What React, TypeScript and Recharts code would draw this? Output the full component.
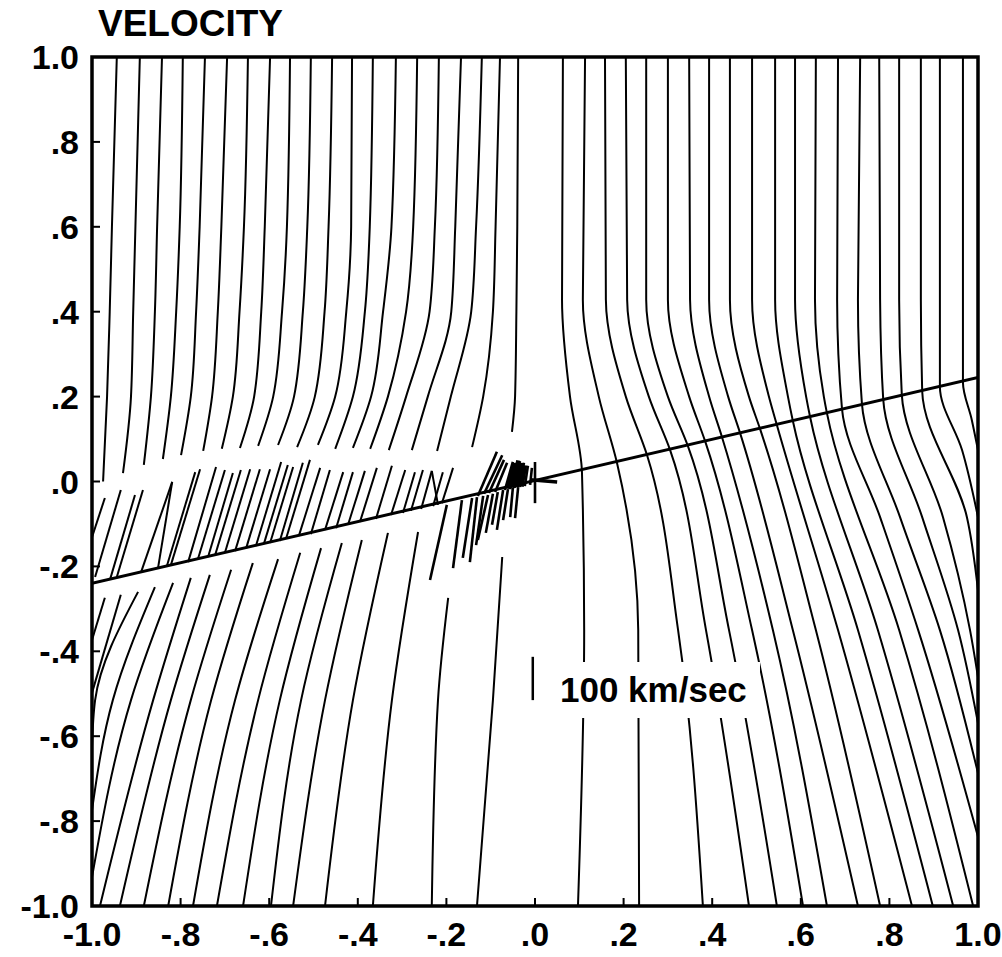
import React from 'react';
import { LineChart, Line, XAxis, YAxis, ReferenceArea } from 'recharts';

type Pt = [number, number];

const axisTicks = [-1, -0.8, -0.6, -0.4, -0.2, 0, 0.2, 0.4, 0.6, 0.8, 1];

// streamlines coming down from the top, left of centre (end above the shock line)
const upperLeftStreams: Pt[][] = [
  [[-0.944, 1], [-0.955, 0.6], [-0.96, 0.4], [-0.966, 0.2], [-0.975, 0.0]],
  [[-0.892, 1], [-0.902, 0.6], [-0.907, 0.4], [-0.912, 0.2], [-0.93, 0.02]],
  [[-0.842, 1], [-0.853, 0.6], [-0.858, 0.4], [-0.867, 0.2], [-0.883, 0.039]],
  [[-0.795, 1], [-0.802, 0.6], [-0.81, 0.4], [-0.822, 0.2], [-0.84, 0.053]],
  [[-0.745, 1], [-0.757, 0.6], [-0.765, 0.4], [-0.777, 0.2], [-0.799, 0.062]],
  [[-0.695, 1], [-0.708, 0.6], [-0.716, 0.4], [-0.729, 0.2], [-0.749, 0.072]],
  [[-0.648, 1], [-0.657, 0.6], [-0.667, 0.4], [-0.682, 0.2], [-0.707, 0.077]],
  [[-0.598, 1], [-0.61, 0.6], [-0.618, 0.4], [-0.634, 0.2], [-0.666, 0.079]],
  [[-0.553, 1], [-0.56, 0.6], [-0.571, 0.4], [-0.591, 0.2], [-0.625, 0.084]],
  [[-0.506, 1], [-0.514, 0.6], [-0.524, 0.4], [-0.544, 0.2], [-0.58, 0.086]],
  [[-0.458, 1], [-0.466, 0.6], [-0.475, 0.4], [-0.497, 0.2], [-0.537, 0.081]],
  [[-0.413, 1], [-0.415, 0.6], [-0.426, 0.4], [-0.451, 0.2], [-0.49, 0.086]],
  [[-0.366, 1], [-0.373, 0.6], [-0.384, 0.4], [-0.411, 0.2], [-0.451, 0.077]],
  [[-0.314, 1], [-0.324, 0.6], [-0.343, 0.4], [-0.37, 0.2], [-0.411, 0.079]],
  [[-0.266, 1], [-0.275, 0.6], [-0.291, 0.4], [-0.332, 0.2], [-0.372, 0.077]],
  [[-0.217, 1], [-0.226, 0.6], [-0.238, 0.4], [-0.291, 0.2], [-0.33, 0.074]],
  [[-0.167, 1], [-0.18, 0.6], [-0.189, 0.4], [-0.242, 0.2], [-0.278, 0.074]],
  [[-0.12, 1], [-0.133, 0.6], [-0.144, 0.4], [-0.19, 0.2], [-0.221, 0.072]],
  [[-0.079, 1], [-0.089, 0.6], [-0.095, 0.4], [-0.117, 0.2], [-0.142, 0.081]],
  [[-0.038, 1], [-0.04, 0.6], [-0.042, 0.4], [-0.045, 0.2], [-0.052, 0.117]],
];

// streamlines right of centre, crossing the shock line
const rightStreams: Pt[][] = [
  [[0.063, 1], [0.061, 0.428], [0.079, 0.2], [0.106, 0.022], [0.111, -0.35], [0.097, -1]],
  [[0.113, 1], [0.108, 0.428], [0.144, 0.2], [0.185, 0.044], [0.233, -0.35], [0.235, -1]],
  [[0.158, 1], [0.16, 0.428], [0.205, 0.2], [0.253, 0.062], [0.323, -0.35], [0.379, -1]],
  [[0.205, 1], [0.208, 0.428], [0.257, 0.2], [0.305, 0.074], [0.386, -0.35], [0.483, -1]],
  [[0.251, 1], [0.251, 0.428], [0.3, 0.2], [0.345, 0.084], [0.438, -0.35], [0.546, -1]],
  [[0.3, 1], [0.3, 0.428], [0.348, 0.2], [0.384, 0.095], [0.49, -0.35], [0.605, -1]],
  [[0.348, 1], [0.35, 0.428], [0.393, 0.2], [0.422, 0.105], [0.537, -0.35], [0.659, -1]],
  [[0.393, 1], [0.393, 0.428], [0.436, 0.2], [0.463, 0.114], [0.582, -0.35], [0.729, -1]],
  [[0.44, 1], [0.44, 0.428], [0.483, 0.2], [0.508, 0.124], [0.634, -0.35], [0.779, -1]],
  [[0.49, 1], [0.49, 0.428], [0.528, 0.2], [0.546, 0.133], [0.684, -0.35], [0.851, -1]],
  [[0.542, 1], [0.542, 0.428], [0.571, 0.2], [0.582, 0.143], [0.729, -0.35], [0.898, -1]],
  [[0.587, 1], [0.587, 0.428], [0.612, 0.2], [0.621, 0.152], [0.774, -0.35], [0.944, -1]],
  [[0.634, 1], [0.632, 0.428], [0.652, 0.2], [0.659, 0.161], [0.822, -0.35], [0.989, -1]],
  [[0.684, 1], [0.682, 0.428], [0.693, 0.171], [0.779, -0.084], [0.865, -0.35], [1.0, -0.837]],
  [[0.734, 1], [0.729, 0.428], [0.738, 0.183], [0.824, -0.084], [0.914, -0.35], [1.0, -0.687]],
  [[0.777, 1], [0.779, 0.428], [0.786, 0.194], [0.874, -0.084], [0.955, -0.35], [1.0, -0.569]],
  [[0.822, 1], [0.822, 0.428], [0.828, 0.204], [0.921, -0.084], [0.982, -0.35], [1.0, -0.461]],
  [[0.871, 1], [0.871, 0.428], [0.874, 0.213], [0.975, -0.084], [1.0, -0.256]],
  [[0.914, 1], [0.914, 0.428], [0.914, 0.223], [0.964, 0.074], [1.0, -0.084]],
  [[0.966, 1], [0.966, 0.428], [0.966, 0.234], [0.986, 0.145], [1.0, 0.074]],
];

// streamlines rising from the bottom / left edge up to just under the shock line
const lowerLeftStreams: Pt[][] = [
  [[-1.0, -0.373], [-0.971, -0.274]],
  [[-1.0, -0.498], [-0.935, -0.267]],
  [[-1.0, -0.625], [-0.993, -0.515], [-0.896, -0.26]],
  [[-1.0, -0.774], [-0.953, -0.515], [-0.858, -0.249]],
  [[-1.0, -0.932], [-0.912, -0.515], [-0.817, -0.239]],
  [[-0.982, -1], [-0.862, -0.515], [-0.777, -0.227]],
  [[-0.937, -1], [-0.822, -0.515], [-0.734, -0.22]],
  [[-0.883, -1], [-0.777, -0.515], [-0.686, -0.208]],
  [[-0.828, -1], [-0.731, -0.515], [-0.637, -0.192]],
  [[-0.772, -1], [-0.677, -0.515], [-0.58, -0.183]],
  [[-0.718, -1], [-0.625, -0.515], [-0.53, -0.168]],
  [[-0.659, -1], [-0.576, -0.515], [-0.483, -0.157]],
  [[-0.596, -1], [-0.528, -0.515], [-0.436, -0.145]],
  [[-0.546, -1], [-0.474, -0.515], [-0.391, -0.138]],
  [[-0.474, -1], [-0.411, -0.515], [-0.332, -0.121]],
  [[-0.366, -1], [-0.323, -0.515], [-0.264, -0.119]],
  [[-0.233, -1], [-0.219, -0.515], [-0.196, -0.274]],
  [[-0.131, -1], [-0.095, -0.515], [-0.074, -0.178]],
];

// short vectors between the shock line and the upper streamlines
const hatchSegments: Pt[][] = [
  [[-1.0, -0.131], [-0.971, -0.039]],
  [[-0.993, -0.225], [-0.935, -0.02]],
  [[-0.959, -0.23], [-0.903, -0.032]],
  [[-0.944, -0.225], [-0.885, -0.02]],
  [[-0.889, -0.213], [-0.819, -0.001]],
  [[-0.851, -0.204], [-0.819, -0.001]],
  [[-0.831, -0.199], [-0.767, 0.022]],
  [[-0.822, -0.197], [-0.756, 0.029]],
  [[-0.783, -0.19], [-0.72, 0.034]],
  [[-0.761, -0.183], [-0.7, 0.027]],
  [[-0.738, -0.178], [-0.682, 0.02]],
  [[-0.722, -0.173], [-0.664, 0.027]],
  [[-0.7, -0.168], [-0.643, 0.029]],
  [[-0.677, -0.164], [-0.621, 0.029]],
  [[-0.652, -0.157], [-0.598, 0.029]],
  [[-0.63, -0.152], [-0.573, 0.046]],
  [[-0.612, -0.147], [-0.558, 0.039]],
  [[-0.598, -0.145], [-0.546, 0.034]],
  [[-0.576, -0.14], [-0.524, 0.044]],
  [[-0.562, -0.135], [-0.508, 0.051]],
  [[-0.533, -0.128], [-0.485, 0.032]],
  [[-0.506, -0.124], [-0.463, 0.027]],
  [[-0.474, -0.114], [-0.433, 0.022]],
  [[-0.449, -0.11], [-0.411, 0.022]],
  [[-0.422, -0.102], [-0.384, 0.025]],
  [[-0.395, -0.095], [-0.357, 0.032]],
  [[-0.359, -0.088], [-0.323, 0.037]],
  [[-0.325, -0.079], [-0.293, 0.027]],
  [[-0.298, -0.074], [-0.271, 0.022]],
  [[-0.28, -0.069], [-0.253, 0.027]],
  [[-0.257, -0.065], [-0.233, 0.025]],
  [[-0.23, -0.058], [-0.208, 0.022]],
  [[-0.21, -0.051], [-0.185, 0.032]],
  [[-0.219, -0.055], [-0.233, 0.025]],
];

// tangle of vectors near the origin
const clusterUpper: Pt[][] = [
  [[-0.129, -0.034], [-0.086, 0.07]],
  [[-0.115, -0.029], [-0.074, 0.062]],
  [[-0.104, -0.027], [-0.07, 0.051]],
  [[-0.09, -0.025], [-0.063, 0.044]],
  [[-0.068, -0.02], [-0.05, 0.046]],
  [[-0.056, -0.018], [-0.041, 0.044]],
  [[-0.045, -0.015], [-0.034, 0.048]],
  [[-0.034, -0.013], [-0.025, 0.044]],
  [[-0.023, -0.011], [-0.016, 0.037]],
  [[-0.011, -0.008], [-0.007, 0.032]],
  [[0.0, -0.051], [0.0, 0.046]],
];
const clusterCore: Pt[][] = [
  [[-0.061, -0.017], [-0.047, 0.044]],
  [[-0.05, -0.015], [-0.038, 0.05]],
  [[-0.04, -0.013], [-0.03, 0.044]],
  [[-0.03, -0.012], [-0.022, 0.038]],
];
const clusterLower: Pt[][] = [
  [[-0.237, -0.232], [-0.199, -0.055]],
  [[-0.185, -0.204], [-0.165, -0.044]],
  [[-0.163, -0.18], [-0.142, -0.039]],
  [[-0.147, -0.19], [-0.131, -0.037]],
  [[-0.133, -0.15], [-0.117, -0.034]],
  [[-0.129, -0.138], [-0.106, -0.032]],
  [[-0.111, -0.121], [-0.095, -0.029]],
  [[-0.097, -0.102], [-0.084, -0.025]],
  [[-0.086, -0.114], [-0.072, -0.02]],
  [[-0.072, -0.091], [-0.061, -0.018]],
  [[-0.056, -0.084], [-0.05, -0.015]],
  [[-0.045, -0.086], [-0.038, -0.013]],
];
const arrowStub: Pt[] = [[-0.011, 0.004], [0.05, -0.001]];

const shockLine: Pt[] = [[-1, -0.24], [1, 0.245]];
const scaleBar: Pt[] = [[-0.005, -0.515], [-0.005, -0.413]];

const FONT = '"Liberation Sans", Arial, Helvetica, sans-serif';

const toRows = (pts: Pt[]) => pts.map(([x, y]) => ({ x, y })).sort((a, b) => a.y - b.y);
const fmt = (v: number) => v.toFixed(1).replace(/^(-?)0\./, '$1.');
const tickStyle = { fill: '#000', fontSize: 34, fontWeight: 'bold', fontFamily: FONT };

function seg(pts: Pt[], key: string, width: number, curve: 'linear' | 'monotoneY' = 'linear') {
  return (
    <Line
      key={key}
      data={toRows(pts)}
      dataKey="y"
      type={curve}
      stroke="#000"
      strokeWidth={width}
      dot={false}
      activeDot={false}
      legendType="none"
      isAnimationActive={false}
    />
  );
}

export default function App() {
  const streams = [...upperLeftStreams, ...rightStreams, ...lowerLeftStreams];
  return (
    <div style={{ position: 'absolute', left: 0, top: 0, width: 1002, height: 957, background: '#fff', fontFamily: FONT }}>
      <div style={{ position: 'absolute', left: 98, top: 5, fontSize: 37, lineHeight: '37px', fontWeight: 'bold' }}>
        VELOCITY
      </div>
      <LineChart width={1002} height={957} margin={{ top: 57, right: 24, bottom: 6, left: 12 }}>
        <XAxis
          type="number"
          dataKey="x"
          domain={[-1, 1]}
          ticks={axisTicks}
          interval={0}
          tickFormatter={fmt}
          allowDataOverflow
          height={45}
          tickSize={-8}
          tickMargin={24}
          axisLine={false}
          tickLine={{ stroke: '#000', strokeWidth: 2 }}
          tick={tickStyle}
        />
        <YAxis
          type="number"
          dataKey="y"
          domain={[-1, 1]}
          ticks={axisTicks}
          interval={0}
          tickFormatter={fmt}
          allowDataOverflow
          width={80}
          tickSize={-8}
          tickMargin={21}
          axisLine={false}
          tickLine={{ stroke: '#000', strokeWidth: 2 }}
          tick={tickStyle}
        />
        <ReferenceArea x1={-1} x2={1} y1={-1} y2={1} fill="#fff" fillOpacity={0} stroke="#000" strokeWidth={3.5} ifOverflow="visible" />
        {streams.map((s, i) => seg(s, 'st' + i, 2, 'monotoneY'))}
        {hatchSegments.map((s, i) => seg(s, 'h' + i, 2))}
        {clusterUpper.map((s, i) => seg(s, 'cu' + i, 2.6))}
        {clusterCore.map((s, i) => seg(s, 'cc' + i, 4))}
        {clusterLower.map((s, i) => seg(s, 'cl' + i, 2.6))}
        {seg(arrowStub, 'arrow', 3.5)}
        {seg(shockLine, 'shock', 3)}
        {seg(scaleBar, 'bar', 2.5)}
      </LineChart>
      <div
        style={{
          position: 'absolute',
          left: 554,
          top: 662,
          width: 206,
          height: 56,
          background: '#fff',
          fontSize: 35,
          lineHeight: '56px',
          fontWeight: 'bold',
          paddingLeft: 6,
          boxSizing: 'border-box',
        }}
      >
        100 km/sec
      </div>
    </div>
  );
}
